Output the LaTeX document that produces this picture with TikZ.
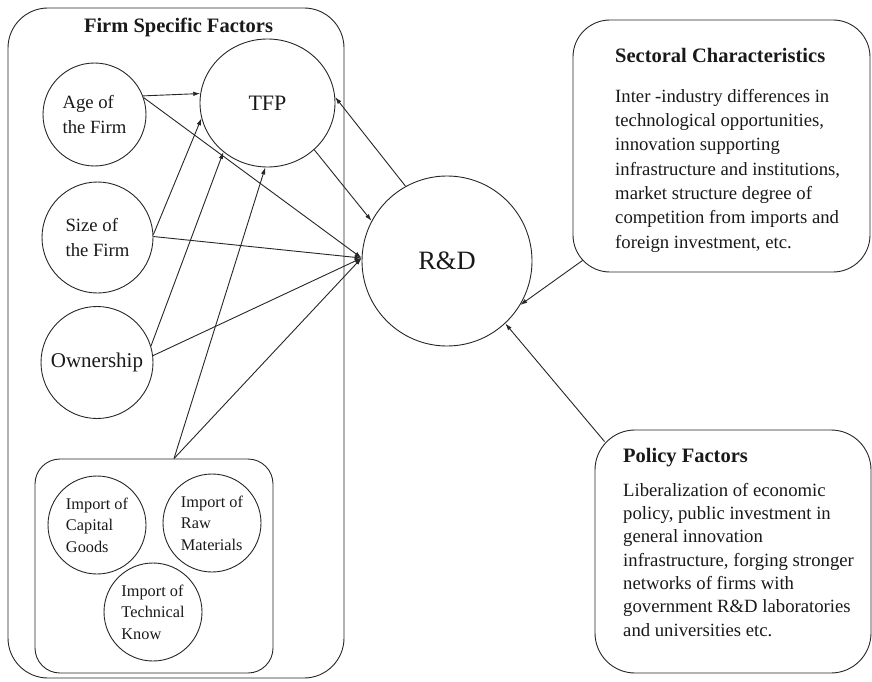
\documentclass[tikz,border=0pt]{standalone}
\usepackage{fontspec}
\setmainfont{Liberation Serif}
\usetikzlibrary{arrows.meta,shapes.geometric,calc}

\begin{document}
\begin{tikzpicture}[x=1pt,y=-1pt,
  ink/.style={draw=black!85,line width=0.9pt},
  panel/.style={ink,rectangle,inner sep=0pt},
  bubble/.style={ink,circle,inner sep=0pt,align=left,text=black!90},
  oval/.style={ink,ellipse,inner sep=0pt,text=black!90},
  arr/.style={draw=black!85,line width=0.9pt,-{Latex[length=7pt,width=4.5pt]}},
  caption/.style={inner sep=0pt,text=black!90,font=\bfseries\fontsize{20.5}{24}\selectfont},
  body/.style={inner sep=0pt,align=left,text=black!90},
  mid/.style={font=\fontsize{18.7}{24.5}\selectfont},
  small/.style={font=\fontsize{16.3}{21.5}\selectfont}
]
\useasboundingbox (0,0) rectangle (872,682);

% frames
\node[panel,rounded corners=40pt,minimum width=336pt,minimum height=670pt] (firm) at (176,343) {};
\node[panel,rounded corners=25pt,minimum width=238pt,minimum height=214pt] (imp) at (154,566) {};
\node[panel,rounded corners=37pt,minimum width=297pt,minimum height=252pt] (sec) at (721.5,146) {};
\node[panel,rounded corners=40pt,minimum width=276pt,minimum height=243pt] (pol) at (733,551.5) {};

% frame titles
\node[caption,anchor=base] (firmtitle) at (178.5,33) {Firm Specific Factors};
\node[caption,anchor=base west] (sectitle) at (615,63) {Sectoral Characteristics};
\node[caption,anchor=base west] (poltitle) at (623,462) {Policy Factors};

% descriptive text of the right-hand frames (anchored at the last baseline)
\node[body,anchor=base west,font=\fontsize{18.7}{24.3}\selectfont] (sectext) at (615,248)
  {Inter -industry differences in\\technological opportunities,\\innovation supporting\\infrastructure and institutions,\\market structure degree of\\competition from imports and\\foreign investment, etc.};
\node[body,anchor=base west,font=\fontsize{18.7}{23.3}\selectfont] (poltext) at (623,636)
  {Liberalization of economic\\policy, public investment in\\general innovation\\infrastructure, forging stronger\\networks of firms with\\government R\&D laboratories\\and universities etc.};

% factor circles
\node[bubble,mid,minimum size=103pt] (age) at (94.5,114.5) {Age of\\the Firm};
\node[bubble,mid,minimum size=111pt] (size) at (97.5,237.5) {Size of\\the Firm};
\node[bubble,font=\fontsize{21}{24}\selectfont,minimum size=112pt] (own) at (97,362.5) {Ownership};
\node[bubble,small,minimum size=98pt] (cap) at (97,525) {Import of\\Capital\\Goods};
\node[bubble,small,minimum size=98pt] (raw) at (212,523) {Import of\\Raw\\Materials};
\node[bubble,small,minimum size=98pt] (tech) at (153,612) {Import of\\Technical\\Know};

% outcome nodes
\node[oval,font=\fontsize{22}{24}\selectfont,minimum width=135pt,minimum height=128pt] (tfp) at (267.5,103) {TFP};
\node[bubble,font=\fontsize{26.5}{28}\selectfont,minimum size=170pt] (rd) at (447,261) {R\&D};

% connector end points
\coordinate (J) at (rd.178);
\coordinate (I) at ([xshift=20pt]imp.north);
\coordinate (S) at ([xshift=10pt,yshift=12pt]sec.south west);
\coordinate (P) at ([xshift=10pt,yshift=-12pt]pol.north west);

% links to TFP
\draw[arr] (age.21) -- (tfp.172);
\draw[arr] (size.3) -- (tfp.-167);
\draw[arr] (own.17) -- (tfp.228);
\draw[arr] (I) -- (tfp.268);

% links to R&D
\draw[arr] (age.19) -- (J);
\draw[arr] (size.1) -- (J);
\draw[arr] (own.7) -- (J);
\draw[arr] (I) -- (J);

% feedback between TFP and R&D
\draw[arr] (tfp.-45) -- (rd.152.5);
\draw[arr] (rd.119.7) -- (tfp.5);

% external influences
\draw[arr] (S) -- (rd.-31);
\draw[arr] (P) -- (rd.-47);
\end{tikzpicture}
\end{document}
